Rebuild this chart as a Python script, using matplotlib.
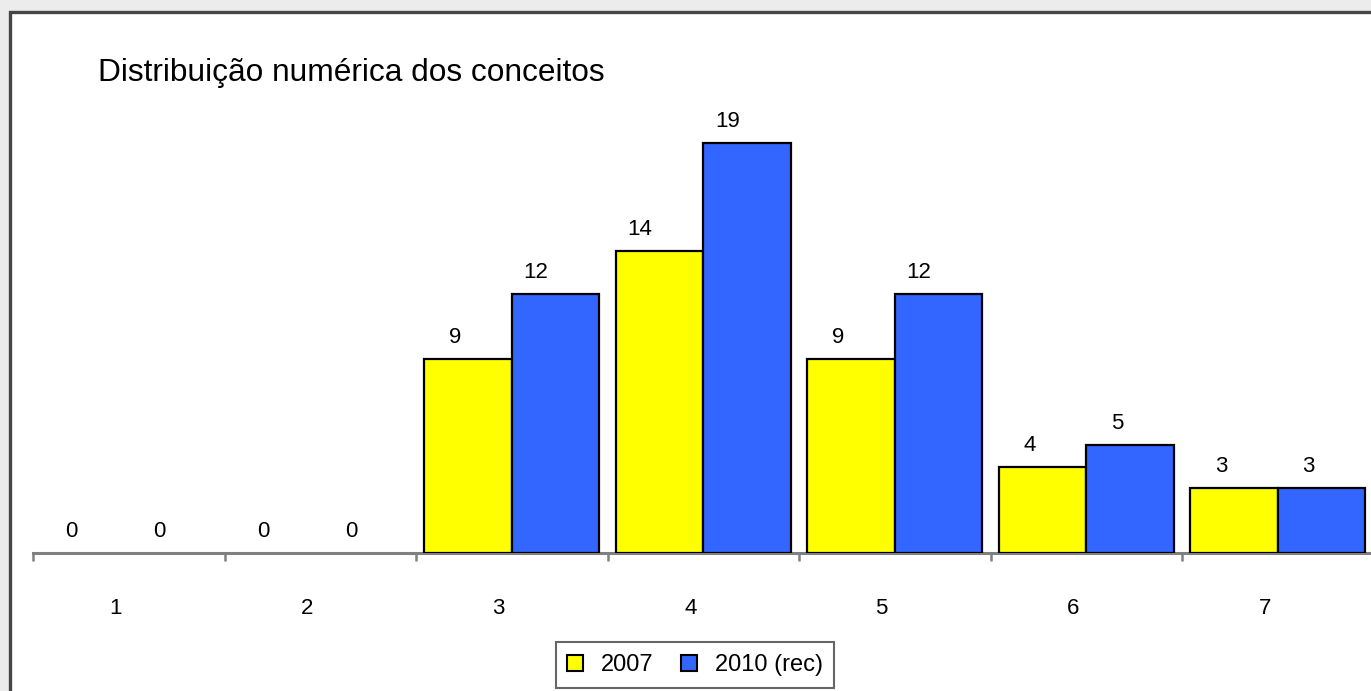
import matplotlib
matplotlib.use("Agg")
import matplotlib.pyplot as plt
import matplotlib.patches as pat
from matplotlib.transforms import offset_copy
import numpy as np

plt.rcParams['font.family'] = ['Liberation Sans', 'DejaVu Sans']

categorias = ["1", "2", "3", "4", "5", "6", "7"]
serie_2007 = [0, 0, 9, 14, 9, 4, 3]
serie_2010 = [0, 0, 12, 19, 12, 5, 3]
nomes = ["2007", "2010 (rec)"]
cores = ["#ffff00", "#3366ff"]

W, H = 1371, 691
fig = plt.figure(figsize=(W / 100, H / 100), dpi=100, facecolor='#ececec')

# moldura do grafico (corta na direita e embaixo)
fig.patches.append(pat.Rectangle((10 / W, -0.1), 1.2, 1.1 - 12 / H,
                                 transform=fig.transFigure, facecolor='white',
                                 edgecolor='#454545', linewidth=2.4, zorder=-5))

ax = fig.add_axes([33 / W, (H - 553) / H, 1340.5 / W, (553 - 100) / H])
ax.set_facecolor('none')

x = np.arange(1, len(categorias) + 1)
w = 0.457
# barras de valor zero ficam sem contorno
lw07 = [1.6 if v else 0 for v in serie_2007]
lw10 = [1.6 if v else 0 for v in serie_2010]
ax.bar(x - w / 2, serie_2007, w, color=cores[0], edgecolor='black', linewidth=lw07, zorder=3)
ax.bar(x + w / 2, serie_2010, w, color=cores[1], edgecolor='black', linewidth=lw10, zorder=3)

ax.set_xlim(0.5, 7.5)
ax.set_ylim(0, 21)
for s in ['top', 'left', 'right']:
    ax.spines[s].set_visible(False)
ax.spines['bottom'].set_color('#808080')
ax.spines['bottom'].set_linewidth(2.2)
ax.set_yticks([])
ax.set_xticks([])
ax.set_xticks(np.arange(0.5, 8.0, 1.0), minor=True)
ax.tick_params(axis='x', which='minor', length=6, width=1.8, color='#808080', direction='out')

# rotulos das categorias
tr_cat = offset_copy(ax.transData, fig, x=-13, y=-45, units='dots')
for xi, c in zip(x, categorias):
    ax.text(xi, 0, c, transform=tr_cat, ha='center', va='top', fontsize=16, color='black')

# valores sobre as barras
tr_val = offset_copy(ax.transData, fig, x=-7, y=11, units='dots')
for xi, a, b in zip(x, serie_2007, serie_2010):
    ax.text(xi - w / 2, a, str(a), transform=tr_val, ha='right', va='bottom', fontsize=16)
    ax.text(xi + w / 2, b, str(b), transform=tr_val, ha='right', va='bottom', fontsize=16)

fig.text(98 / W, (H - 81) / H, "Distribuição numérica dos conceitos", fontsize=22.8,
         ha='left', va='baseline')

handles = [pat.Patch(facecolor=cores[0], edgecolor='black', linewidth=1.5),
           pat.Patch(facecolor=cores[1], edgecolor='black', linewidth=1.5)]
leg = fig.legend(handles, nomes, loc='lower center', bbox_to_anchor=(695 / W, 3 / H),
                 ncol=2, fontsize=17, fancybox=False, frameon=True,
                 handlelength=0.65, handleheight=0.65, handletextpad=0.75,
                 columnspacing=1.2, borderpad=0.5, borderaxespad=0)
leg.get_frame().set_edgecolor('#404040')
leg.get_frame().set_linewidth(1.5)

fig.savefig("out.png", dpi=100, facecolor=fig.get_facecolor())
